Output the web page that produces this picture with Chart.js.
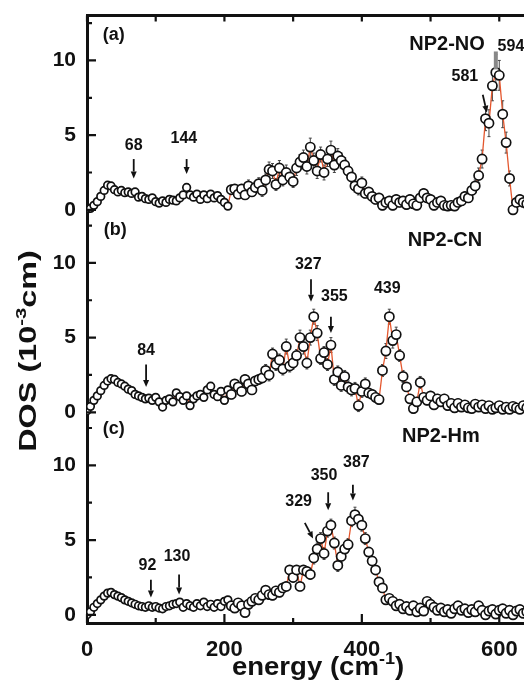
<!DOCTYPE html>
<html>
<head>
<meta charset="utf-8">
<title>NRVS DOS</title>
<script src="https://cdn.jsdelivr.net/npm/chart.js"></script>
<style>
  html, body { margin: 0; padding: 0; background: #fff; }
  #wrap { position: relative; width: 524px; height: 682px; }
</style>
</head>
<body>
<div id="wrap"><canvas id="dosChart"></canvas></div>
<script>
// energy grid (cm-1)
const energy = [
  0, 5, 10, 15, 20, 25, 30, 35, 40, 45,
  50, 55, 60, 65, 70, 75, 80, 85, 90, 95,
  100, 105, 110, 115, 120, 125, 130, 135, 140, 145,
  150, 155, 160, 165, 170, 175, 180, 185, 190, 195,
  200, 205, 210, 215, 220, 225, 230, 235, 240, 245,
  250, 255, 260, 265, 270, 275, 280, 285, 290, 295,
  300, 305, 310, 315, 320, 325, 330, 335, 340, 345,
  350, 355, 360, 365, 370, 375, 380, 385, 390, 395,
  400, 405, 410, 415, 420, 425, 430, 435, 440, 445,
  450, 455, 460, 465, 470, 475, 480, 485, 490, 495,
  500, 505, 510, 515, 520, 525, 530, 535, 540, 545,
  550, 555, 560, 565, 570, 575, 580, 585, 590, 595,
  600, 605, 610, 615, 620, 625, 630, 635, 640
];

// (a) NP2-NO
const dosNO = [
  0.05, 0.1, 0.3, 0.55, 0.9, 1.3, 1.65, 1.6, 1.35, 1.2,
  1.3, 1.15, 1.2, 1.1, 1.2, 0.85, 0.9, 0.75, 0.7, 0.8,
  0.55, 0.45, 0.6, 0.5, 0.7, 0.65, 0.6, 0.8, 1.0, 1.5,
  1.0, 0.85, 1.05, 0.7, 1.0, 0.75, 1.05, 0.8, 0.95, 0.7,
  0.5, 0.25, 1.35, 1.4, 1.05, 1.4, 1.0, 1.6, 1.2, 1.5,
  1.75, 1.3, 2.0, 2.7, 2.6, 1.7, 2.8, 2.0, 2.5, 2.2,
  1.9, 2.8, 3.2, 3.5, 2.9, 4.2, 3.3, 2.6, 3.7, 2.5,
  3.4, 4.0, 3.0, 3.6, 3.3, 3.0, 2.6, 2.2, 1.6, 1.4,
  1.8, 1.1, 1.2, 0.9, 0.7, 0.8, 0.3, 0.5, 0.6, 0.3,
  0.7, 0.5, 0.6, 0.35, 0.7, 0.4, 0.3, 0.8, 1.1, 0.8,
  0.7, 0.3, 0.5, 0.6, 0.3, 0.25, 0.3, 0.25, 0.5, 0.6,
  0.9, 0.8, 1.3, 1.6, 2.3, 3.4, 6.1, 5.8, 8.3, 9.2,
  9.0, 6.4, 4.5, 2.1, 0.0, 0.5, 0.7, 0.5, 0.4
];
const errNO = [
  0, 0, 0, 0, 0, 0, 0, 0, 0, 0,
  0, 0, 0, 0, 0, 0, 0, 0, 0, 0,
  0, 0, 0, 0, 0, 0, 0, 0, 0, 0,
  0, 0, 0, 0, 0, 0, 0, 0, 0, 0,
  0, 0, 0.3, 0.3, 0.3, 0.3, 0.3, 0.4, 0.3, 0.4,
  0.4, 0.4, 0.4, 0.5, 0.5, 0.4, 0.5, 0.4, 0.5, 0.4,
  0.4, 0.5, 0.5, 0.5, 0.5, 0.6, 0.5, 0.5, 0.5, 0.5,
  0.5, 0.6, 0.5, 0.5, 0.5, 0.5, 0.4, 0.4, 0.4, 0.4,
  0.4, 0.3, 0.3, 0.3, 0.3, 0.3, 0.3, 0.3, 0.3, 0.3,
  0.3, 0.3, 0.3, 0.3, 0.3, 0.3, 0.3, 0.3, 0.3, 0.3,
  0.3, 0.3, 0.3, 0.3, 0.3, 0.3, 0.3, 0.3, 0.3, 0.3,
  0.3, 0.3, 0.3, 0.4, 0.5, 0.6, 0.8, 0.9, 1.0, 1.2,
  1.0, 0.9, 0.7, 0.5, 0.3, 0.3, 0.3, 0.3, 0.3
];

// (b) NP2-CN
const dosCN = [
  0.1, 0.4, 0.8, 1.1, 1.45, 1.8, 2.1, 2.25, 2.2, 2.0,
  1.9, 1.75, 1.55, 1.45, 1.2, 1.1, 1.0, 0.9, 0.95, 0.8,
  1.0, 0.7, 0.35, 0.8, 0.9, 0.7, 1.3, 1.05, 0.8, 1.1,
  0.45, 0.9, 1.1, 1.2, 1.0, 1.5, 1.75, 1.2, 1.05, 1.4,
  0.8, 1.5, 1.2, 1.9, 1.7, 1.4, 2.2, 1.9, 1.5, 2.1,
  2.2, 2.3, 2.8, 2.5, 3.9, 3.2, 3.5, 2.9, 4.4, 3.1,
  3.3, 3.8, 5.0, 4.4, 3.3, 5.0, 6.4, 5.3, 3.6, 4.0,
  3.2, 4.5, 2.2, 2.7, 1.8, 2.4, 1.7, 1.5, 1.6, 0.45,
  1.4, 1.9, 1.3, 1.2, 1.0, 0.85, 2.8, 4.1, 6.4, 4.8,
  5.2, 3.8, 2.4, 1.7, 0.9, 0.25, 0.7, 2.0, 1.0, 0.8,
  1.1, 0.5, 0.9, 0.7, 0.9, 0.45, 0.6, 0.3, 0.6, 0.35,
  0.5, 0.3, 0.25, 0.55, 0.35, 0.5, 0.25, 0.45, 0.2, 0.3,
  0.45, 0.2, 0.35, 0.2, 0.4, 0.3, 0.2, 0.45, 0.3
];
const errCN = [
  0, 0, 0, 0, 0, 0, 0, 0, 0, 0,
  0, 0, 0, 0, 0, 0, 0, 0, 0, 0,
  0, 0, 0, 0, 0, 0, 0, 0, 0, 0,
  0, 0, 0, 0, 0, 0, 0, 0, 0, 0,
  0, 0, 0.3, 0.3, 0.3, 0.3, 0.3, 0.3, 0.3, 0.3,
  0.3, 0.3, 0.4, 0.4, 0.4, 0.4, 0.4, 0.4, 0.5, 0.4,
  0.4, 0.4, 0.5, 0.5, 0.4, 0.5, 0.5, 0.5, 0.4, 0.4,
  0.4, 0.5, 0.4, 0.4, 0.4, 0.4, 0.4, 0.4, 0.4, 0.4,
  0.4, 0.4, 0.3, 0.3, 0.3, 0.3, 0.4, 0.5, 0.5, 0.5,
  0.5, 0.4, 0.4, 0.3, 0.3, 0.3, 0.3, 0.4, 0.3, 0.3,
  0.3, 0.3, 0.3, 0.3, 0.3, 0.3, 0.3, 0.3, 0.3, 0.3,
  0.2, 0.2, 0.2, 0.2, 0.2, 0.2, 0.2, 0.2, 0.2, 0.2,
  0.2, 0.2, 0.2, 0.2, 0.2, 0.2, 0.2, 0.2, 0.2
];

// (c) NP2-Hm
const dosHm = [
  0.0, 0.2, 0.5, 0.75, 1.0, 1.25, 1.45, 1.5, 1.35, 1.25,
  1.15, 1.0, 0.9, 0.8, 0.7, 0.6, 0.55, 0.5, 0.6, 0.5,
  0.55, 0.45, 0.4, 0.55, 0.6, 0.7, 0.75, 0.85, 0.5, 0.75,
  0.6, 0.5, 0.75, 0.6, 0.85, 0.55, 0.7, 0.5, 0.75, 0.55,
  0.9, 1.0, 0.6, 0.45, 0.8, 0.6, 0.15, 0.7, 0.9, 1.1,
  1.0, 1.3, 1.65, 1.35, 1.3, 1.6, 1.5, 1.8, 1.9, 3.0,
  2.5, 3.0, 1.9, 3.0, 2.9, 2.7, 3.8, 4.4, 5.1, 4.1,
  5.6, 6.0, 4.8, 3.3, 3.9, 4.4, 4.7, 6.3, 6.7, 6.4,
  6.0, 5.1, 4.2, 3.6, 3.0, 2.2, 1.8, 1.0, 1.1, 0.9,
  0.6, 0.7, 0.4, 0.55, 0.3, 0.6, 0.2, 0.45, 0.25, 0.9,
  0.7, 0.5, 0.3, 0.45, 0.2, 0.35, 0.1, 0.4, 0.6, 0.3,
  0.4, 0.15, 0.35, 0.2, 0.6, 0.3, 0.0, 0.25, 0.35, 0.05,
  0.3, 0.4, 0.1, 0.3, 0.0, 0.25, 0.35, 0.1, 0.2
];
const errHm = [
  0, 0, 0, 0, 0, 0, 0, 0, 0, 0,
  0, 0, 0, 0, 0, 0, 0, 0, 0, 0,
  0, 0, 0, 0, 0, 0, 0, 0, 0, 0,
  0, 0, 0, 0, 0, 0, 0, 0, 0, 0,
  0, 0, 0, 0, 0, 0, 0, 0, 0.2, 0.2,
  0.3, 0.3, 0.3, 0.3, 0.3, 0.3, 0.3, 0.3, 0.3, 0.3,
  0.3, 0.3, 0.3, 0.3, 0.3, 0.3, 0.4, 0.4, 0.4, 0.4,
  0.4, 0.4, 0.4, 0.4, 0.4, 0.4, 0.4, 0.4, 0.5, 0.4,
  0.4, 0.4, 0.3, 0.3, 0.3, 0.3, 0.3, 0.2, 0.2, 0.2,
  0.2, 0.2, 0.2, 0.2, 0.2, 0.2, 0.2, 0.2, 0.2, 0.2,
  0.2, 0.2, 0.2, 0.2, 0.2, 0.2, 0.2, 0.2, 0.2, 0.2,
  0.2, 0.2, 0.2, 0.2, 0.2, 0.2, 0.2, 0.2, 0.2, 0.2,
  0.2, 0.2, 0.2, 0.2, 0.2, 0.2, 0.2, 0.2, 0.2
];

const energyLabels = [0, 200, 400, 600];
const energyTicks = [0, 100, 200, 300, 400, 500, 600];
const dosTicks = [0, 2.5, 5, 7.5, 10, 12.5];

const FONT = '"Liberation Sans", Arial, sans-serif';
const INK = '#111';

// panel tags, sample names and assigned peaks (label position, arrow tail -> head)
const panels = [
  { axis: 'yA', tag: '(a)', tagAt: [39, 11.7], name: 'NP2-NO', nameAt: [524, 11.1], dos: dosNO, err: errNO,
    peaks: [
      { text: '68', at: [68, 4.3], arrow: [68, 3.4, 68, 2.1] },
      { text: '144', at: [141, 4.75], arrow: [145, 3.4, 145, 2.4] },
      { text: '581', at: [550, 8.9], arrow: [576, 7.7, 582, 6.5] },
      { text: '594', at: [617, 10.9], bar: [595, 10.6, 595, 9.4] }
    ] },
  { axis: 'yB', tag: '(b)', tagAt: [41, 12.2], name: 'NP2-CN', nameAt: [521, 11.5], dos: dosCN, err: errCN,
    peaks: [
      { text: '84', at: [86, 4.1], arrow: [86, 3.2, 86, 1.7] },
      { text: '327', at: [322, 9.9], arrow: [326, 8.9, 326, 7.4] },
      { text: '355', at: [360, 7.75], arrow: [355, 6.4, 355, 5.3] },
      { text: '439', at: [437, 8.3] }
    ] },
  { axis: 'yC', tag: '(c)', tagAt: [39, 12.45], name: 'NP2-Hm', nameAt: [515, 11.9], dos: dosHm, err: errHm,
    peaks: [
      { text: '92', at: [88, 3.3], arrow: [93, 2.35, 93, 1.15] },
      { text: '130', at: [131, 3.9], arrow: [134, 2.7, 134, 1.35] },
      { text: '329', at: [308, 7.6], arrow: [317, 6.15, 329, 5.1] },
      { text: '350', at: [345, 9.3], arrow: [351, 8.2, 351, 7.0] },
      { text: '387', at: [392, 10.2], arrow: [387, 8.7, 387, 7.65] }
    ] }
];

function yAxis(weight) {
  return {
    type: 'linear', position: 'left', stack: 'dos', stackWeight: 1, weight: weight,
    min: -0.55, max: 13,
    afterFit: s => { s.width = 87; },
    ticks: { stepSize: 5, includeBounds: false, color: INK, padding: 3,
             font: { family: FONT, size: 21, weight: 'bold' } },
    grid: { display: false },
    border: { display: true, width: 3, color: INK }
  };
}

// inward tick marks on the frame
const frameTicks = {
  id: 'frameTicks',
  afterDraw(chart) {
    const { ctx, chartArea: ca, scales } = chart;
    ctx.save();
    ctx.strokeStyle = INK;
    ctx.lineWidth = 2.2;
    ctx.beginPath();
    ['yA', 'yB', 'yC'].forEach(id => {
      dosTicks.forEach(v => {
        const py = scales[id].getPixelForValue(v);
        const len = v % 5 === 0 ? 9 : 5;
        ctx.moveTo(ca.left, py); ctx.lineTo(ca.left + len, py);
      });
    });
    energyTicks.forEach(e => {
      const px = scales.x.getPixelForValue(e);
      const len = e % 200 === 0 ? 9 : 5;
      ctx.moveTo(px, ca.bottom); ctx.lineTo(px, ca.bottom - len);
      ctx.moveTo(px, ca.top); ctx.lineTo(px, ca.top + 6);
    });
    ctx.stroke();
    ctx.restore();
  }
};

// vertical error bars behind the markers
const errorBars = {
  id: 'errorBars',
  beforeDatasetsDraw(chart) {
    const { ctx, scales } = chart;
    ctx.save();
    ctx.strokeStyle = '#444';
    ctx.lineWidth = 1;
    ctx.beginPath();
    panels.forEach(p => {
      const ys = scales[p.axis];
      energy.forEach((e, i) => {
        if (!p.err[i]) return;
        const px = scales.x.getPixelForValue(e);
        const y0 = ys.getPixelForValue(p.dos[i] - p.err[i]);
        const y1 = ys.getPixelForValue(p.dos[i] + p.err[i]);
        ctx.moveTo(px, y0); ctx.lineTo(px, y1);
        ctx.moveTo(px - 1.5, y0); ctx.lineTo(px + 1.5, y0);
        ctx.moveTo(px - 1.5, y1); ctx.lineTo(px + 1.5, y1);
      });
    });
    ctx.stroke();
    ctx.restore();
  }
};

function drawArrow(ctx, x0, y0, x1, y1) {
  const a = Math.atan2(y1 - y0, x1 - x0);
  const hl = 7, hw = 3;
  const bx = x1 - hl * Math.cos(a), by = y1 - hl * Math.sin(a);
  ctx.beginPath();
  ctx.moveTo(x0, y0); ctx.lineTo(bx, by);
  ctx.stroke();
  ctx.beginPath();
  ctx.moveTo(x1, y1);
  ctx.lineTo(bx + hw * Math.sin(a), by - hw * Math.cos(a));
  ctx.lineTo(bx - hw * Math.sin(a), by + hw * Math.cos(a));
  ctx.closePath();
  ctx.fill();
}

// text run with a superscript in the middle, centred on (0,0) of the current transform
function drawSupText(ctx, before, sup, after, size) {
  const main = 'bold ' + size + 'px ' + FONT;
  const small = 'bold ' + Math.round(size * 0.64) + 'px ' + FONT;
  ctx.font = main;
  const w1 = ctx.measureText(before).width;
  const w3 = ctx.measureText(after).width;
  ctx.font = small;
  const w2 = ctx.measureText(sup).width;
  let x = -(w1 + w2 + w3) / 2;
  ctx.textAlign = 'left';
  ctx.textBaseline = 'alphabetic';
  ctx.font = main; ctx.fillText(before, x, 0); x += w1;
  ctx.font = small; ctx.fillText(sup, x, -size * 0.42); x += w2;
  ctx.font = main; ctx.fillText(after, x, 0);
}

const annotations = {
  id: 'annotations',
  afterDatasetsDraw(chart) {
    const { ctx, scales } = chart;
    const X = v => scales.x.getPixelForValue(v);
    ctx.save();
    ctx.fillStyle = INK;
    ctx.strokeStyle = INK;
    ctx.textAlign = 'center';
    ctx.textBaseline = 'middle';
    panels.forEach(p => {
      const Y = v => scales[p.axis].getPixelForValue(v);
      ctx.font = 'bold 18px ' + FONT;
      ctx.fillText(p.tag, X(p.tagAt[0]), Y(p.tagAt[1]));
      ctx.font = 'bold 20px ' + FONT;
      ctx.fillText(p.name, X(p.nameAt[0]), Y(p.nameAt[1]));
      ctx.font = 'bold 16px ' + FONT;
      p.peaks.forEach(k => {
        ctx.fillText(k.text, X(k.at[0]), Y(k.at[1]));
        if (k.arrow) {
          ctx.lineWidth = 1.8;
          drawArrow(ctx, X(k.arrow[0]), Y(k.arrow[1]), X(k.arrow[2]), Y(k.arrow[3]));
        }
        if (k.bar) {
          ctx.save();
          ctx.strokeStyle = '#888';
          ctx.lineWidth = 4;
          ctx.beginPath();
          ctx.moveTo(X(k.bar[0]), Y(k.bar[1])); ctx.lineTo(X(k.bar[2]), Y(k.bar[3]));
          ctx.stroke();
          ctx.restore();
        }
      });
    });
    // axis titles
    ctx.save();
    ctx.translate(318, 675);
    ctx.scale(1.06, 1);
    drawSupText(ctx, 'energy (cm', '-1', ')', 26);
    ctx.restore();
    ctx.save();
    ctx.translate(36, 351);
    ctx.rotate(-Math.PI / 2);
    ctx.scale(1.35, 1);
    drawSupText(ctx, 'DOS (10', '-3', 'cm)', 24);
    ctx.restore();
    ctx.restore();
  }
};

const datasets = panels.map(p => ({
  label: p.name,
  yAxisID: p.axis,
  xAxisID: 'x',
  data: energy.map((e, i) => ({ x: e, y: p.dos[i] })),
  borderColor: '#e4572e',
  borderWidth: 1.3,
  tension: 0,
  pointRadius: ctx => energy[ctx.dataIndex] < 208 ? 3.8 : 4.6,
  pointBorderWidth: 1.7,
  pointBorderColor: INK,
  pointBackgroundColor: '#fff'
}));

new Chart(document.getElementById('dosChart'), {
  type: 'line',
  data: { datasets: datasets },
  options: {
    responsive: true,
    maintainAspectRatio: false,
    animation: false,
    layout: { padding: 0, autoPadding: false },
    plugins: { legend: { display: false }, tooltip: { enabled: false } },
    scales: {
      x: {
        type: 'linear', position: 'bottom', min: 0, max: 636,
        afterFit: s => { s.height = 59; },
        afterBuildTicks: s => { s.ticks = energyLabels.map(v => ({ value: v })); },
        ticks: { maxRotation: 0, autoSkip: false, color: INK, padding: 6,
                 font: { family: FONT, size: 22, weight: 'bold' } },
        grid: { display: false },
        border: { display: true, width: 3, color: INK }
      },
      xTop: {
        type: 'linear', position: 'top', min: 0, max: 636,
        afterFit: s => { s.height = 13; },
        ticks: { display: false },
        grid: { display: false },
        border: { display: true, width: 3, color: INK }
      },
      yA: yAxis(3),
      yB: yAxis(2),
      yC: yAxis(1)
    }
  },
  plugins: [errorBars, frameTicks, annotations]
});
</script>
</body>
</html>
